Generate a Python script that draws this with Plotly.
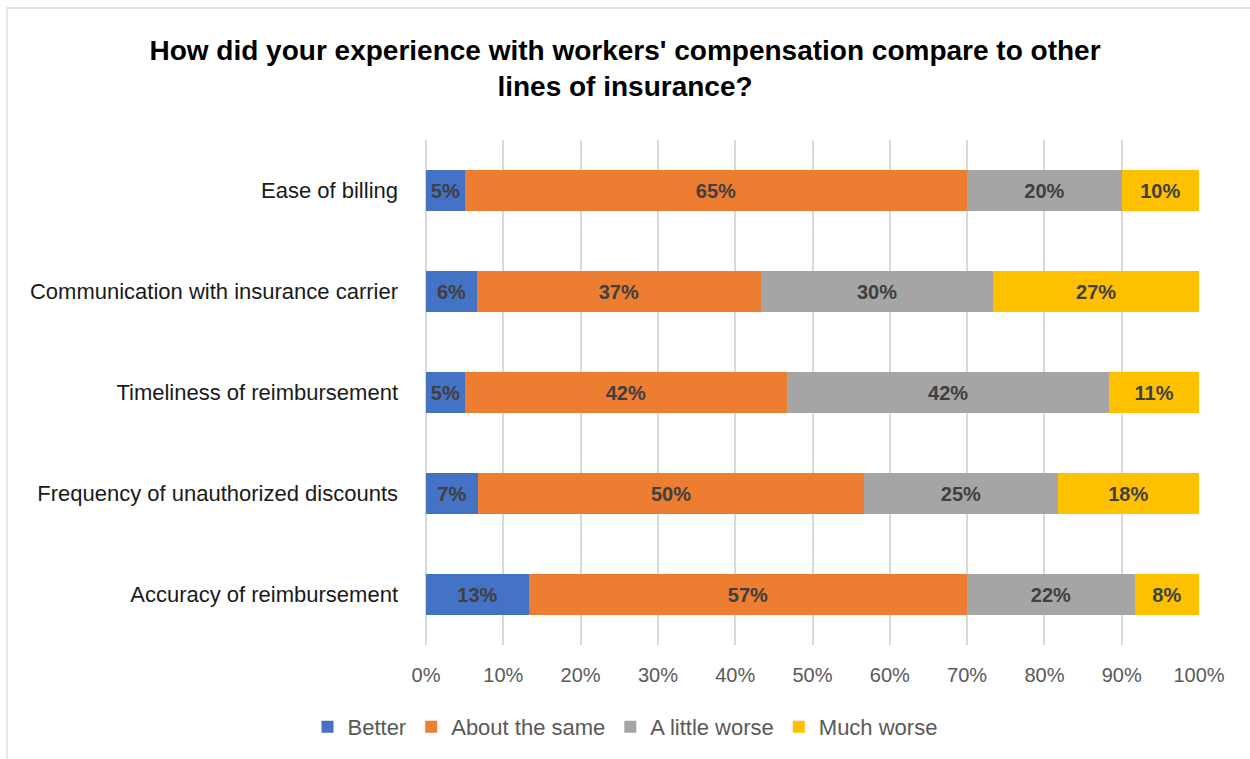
import plotly.graph_objects as go

categories = ["Ease of billing", "Communication with insurance carrier",
              "Timeliness of reimbursement", "Frequency of unauthorized discounts",
              "Accuracy of reimbursement"]
series_names = ["Better", "About the same", "A little worse", "Much worse"]
better = [5.0, 6.6, 5.0, 6.7, 13.3]
about_same = [65.0, 36.7, 41.7, 50.0, 56.7]
little_worse = [20.0, 30.1, 41.7, 25.0, 21.7]
much_worse = [10.0, 26.6, 11.6, 18.3, 8.3]
better_lbl = ["5%", "6%", "5%", "7%", "13%"]
about_lbl = ["65%", "37%", "42%", "50%", "57%"]
little_lbl = ["20%", "30%", "42%", "25%", "22%"]
much_lbl = ["10%", "27%", "11%", "18%", "8%"]
colors = ["#4472C4", "#ED7D31", "#A5A5A5", "#FFC000"]
tick_vals = [0, 10, 20, 30, 40, 50, 60, 70, 80, 90, 100]
tick_text = ["0%", "10%", "20%", "30%", "40%", "50%", "60%", "70%", "80%", "90%", "100%"]

W, H = 1250, 759
ML, MR, MT, MB = 426, 51, 140, 114
FONT = "Liberation Sans, Arial, sans-serif"

fig = go.Figure()
for name, vals, lbls, col in zip(series_names,
                                 [better, about_same, little_worse, much_worse],
                                 [better_lbl, about_lbl, little_lbl, much_lbl],
                                 colors):
    fig.add_trace(go.Bar(
        name=name, y=categories, x=vals, orientation="h",
        marker=dict(color=col, line=dict(width=0)),
        text=lbls, texttemplate="%{text}", textposition="inside",
        insidetextanchor="middle", constraintext="none", textangle=0,
        textfont=dict(family=FONT, size=20, color="#404040", weight="bold"),
        hoverinfo="name+x",
    ))

pw = W - ML - MR
ph = H - MT - MB
fig.add_shape(type="rect", xref="paper", yref="paper",
              x0=(7 - ML) / pw, x1=(W + 5 - ML) / pw,
              y0=-(H + 5 - MT - ph) / ph, y1=1 + (MT - 8) / ph,
              line=dict(color="#D9D9D9", width=1.3), fillcolor="rgba(0,0,0,0)", layer="below")

fig.update_layout(
    width=W, height=H, barmode="stack", bargap=0.6,
    margin=dict(l=ML, r=MR, t=MT, b=MB),
    paper_bgcolor="white", plot_bgcolor="white",
    font=dict(family=FONT),
    title=dict(text="How did your experience with workers' compensation compare to other<br>lines of insurance?",
               x=0.5, xanchor="center", xref="container",
               y=1 - 60 / H, yanchor="middle", yref="container",
               font=dict(family=FONT, size=28, color="#000000", weight="bold")),
    legend=dict(orientation="h", xref="container", yref="container",
                x=0.5, xanchor="center", y=(H - 727) / H, yanchor="middle",
                font=dict(family=FONT, size=22, color="#595959"),
                traceorder="normal", itemclick=False),
    showlegend=True,
)
fig.update_xaxes(range=[0, 100], tickvals=tick_vals, ticktext=tick_text,
                 showgrid=True, gridcolor="#D9D9D9", gridwidth=1.5,
                 zeroline=True, zerolinecolor="#D9D9D9", zerolinewidth=1.5,
                 showline=False, ticks="", ticklabelstandoff=16,
                 tickfont=dict(family=FONT, size=20, color="#595959"), fixedrange=True)
fig.update_yaxes(autorange="reversed", showgrid=False, showline=False, ticks="",
                 ticklabelstandoff=27,
                 tickfont=dict(family=FONT, size=22, color="#1a1a1a"), fixedrange=True)

fig.write_html("out.html")
